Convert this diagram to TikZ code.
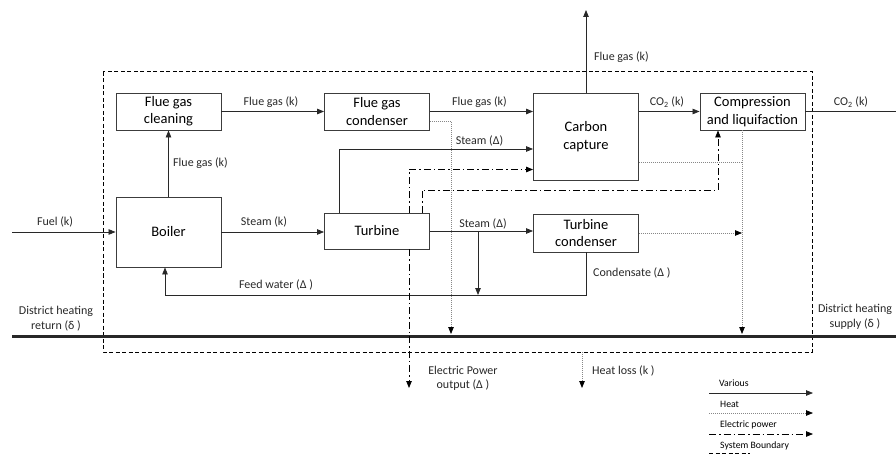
\documentclass[tikz,border=0pt]{standalone}
\usepackage{fontspec}
\setmainfont{Carlito}
\usetikzlibrary{arrows.meta}
\definecolor{boxGray}{RGB}{60,60,60}
\definecolor{heatGray}{RGB}{135,135,135}
\definecolor{lineGray}{RGB}{40,40,40}

\begin{document}
\begin{tikzpicture}[
    x=1pt,
    y=-1pt,
    unit/.style={
        draw=boxGray,
        line width=0.9pt,
        inner sep=0pt,
        align=center,
        minimum width=105pt,
        font=\fontsize{14.5}{17.4}\selectfont
    },
    flow/.style={
        lineGray,
        line width=0.8pt,
        -{Triangle[length=7pt,width=5.5pt]}
    },
    heat/.style={
        heatGray,
        line width=0.8pt,
        dash pattern=on 0.8pt off 1.2pt,
        -{Triangle[length=7pt,width=5.5pt,color=black]}
    },
    heat line/.style={
        heatGray,
        line width=0.8pt,
        dash pattern=on 0.8pt off 1.2pt
    },
    power/.style={
        black,
        line width=0.8pt,
        dash pattern=on 7pt off 3pt on 1.5pt off 3pt,
        -{Triangle[length=7pt,width=5.5pt]}
    },
    boundary/.style={
        black,
        line width=1pt,
        dash pattern=on 4pt off 2.5pt
    },
    district/.style={
        lineGray,
        line width=3pt
    },
    lbl/.style={
        text=lineGray,
        inner sep=0pt,
        font=\fontsize{12}{14.5}\selectfont
    },
    key/.style={
        anchor=west,
        inner sep=0pt,
        font=\fontsize{9.75}{11}\selectfont
    }
]
\useasboundingbox (0,0) rectangle (896,454);

%------------------------------------------------
% System boundary and district heating line
%------------------------------------------------
\coordinate (bndNW) at (103,72);
\coordinate (bndSE) at (812,352);
\draw[boundary] (bndNW) rectangle (bndSE);

\coordinate (dhwest) at (12,336);
\coordinate (dheast) at (896,336);
\draw[district] (dhwest) -- (dheast);

%------------------------------------------------
% Process units
%------------------------------------------------
\node[unit, minimum height=37pt] (cleaning) at (168.5,111.5) {Flue gas\\cleaning};
\node[unit, minimum height=37pt] (condenser) at (377,111.5) {Flue gas\\condenser};
\node[unit, minimum height=70pt] (boiler) at (168.5,232) {Boiler};
\node[unit, minimum height=36pt] (turbine) at (377,231) {Turbine};
\node[unit, minimum height=87pt] (capture) at (586,136.5) {Carbon\\capture};
\node[unit, minimum height=37pt] (compression) at (752.5,111.5) {Compression\\and liquifaction};
\node[unit, minimum height=38pt] (tcondenser) at (586,233) {Turbine\\condenser};

%------------------------------------------------
% Free ends and bends
%------------------------------------------------
\coordinate (fuelin) at (12,232);
\coordinate (exhaust) at (586,10);
\coordinate (co2out) at (896,111.5);
\coordinate (branch) at (478,231);
\coordinate (fwturn) at (165,295);
\coordinate (pwbend) at (718,190);
\coordinate (heatA) at (451,334);
\coordinate (heatB) at (742,334);
\coordinate (elout) at (409,388);
\coordinate (hlstart) at (582,352);
\coordinate (hlend) at (582,388);

%------------------------------------------------
% Mass flows
%------------------------------------------------
\draw[flow] (fuelin) -- (boiler.west);
\node[lbl] (lblfuel) at (55,222) {Fuel (k)};

\draw[flow] (boiler.north) -- (cleaning.south);
\node[lbl, anchor=west] (lblfgup) at (173,163) {Flue gas (k)};

\draw[flow] (cleaning.east) -- (condenser.west);
\node[lbl] (lblfgone) at (271,102) {Flue gas (k)};

\draw[flow] (condenser.east) -- (condenser.east -| capture.west);
\node[lbl] (lblfgtwo) at (479.5,102) {Flue gas (k)};

\draw[flow] (capture.north) -- (exhaust);
\node[lbl, anchor=west] (lblexhaust) at (594,57) {Flue gas (k)};

\draw[flow] (compression.west -| capture.east) -- (compression.west);
\node[lbl] (lblcotwo) at (667,102) {CO\textsubscript{2} (k)};

\draw[lineGray, line width=0.8pt] (compression.east) -- (co2out);
\node[lbl] (lblcoout) at (851,102) {CO\textsubscript{2} (k)};

\draw[flow] (boiler.east) -- (boiler.east -| turbine.west);
\node[lbl] (lblsteamk) at (264,222) {Steam (k)};

\draw[flow] ([xshift=-38pt]turbine.north) |- ([yshift=-12.5pt]capture.west);
\node[lbl] (lblsteamcc) at (479.5,140.5) {Steam (Δ)};

\draw[flow] (turbine.east) -- (turbine.east -| tcondenser.west);
\node[lbl] (lblsteamtc) at (483,223.5) {Steam (Δ)};

\draw[flow] (branch) -- (branch |- fwturn);

\draw[flow] (tcondenser.south) |- (fwturn) -- (fwturn |- boiler.south);
\node[lbl] (lblfeed) at (276,285) {Feed water (Δ )};
\node[lbl, anchor=west] (lblcond) at (593,273) {Condensate (Δ )};

%------------------------------------------------
% Electric power
%------------------------------------------------
\draw[power] ([xshift=32pt]turbine.north) |- ([yshift=-33pt]capture.west);
\draw[power] ([xshift=45pt]turbine.north) |- (pwbend) -- (pwbend |- compression.south);
\draw[power] ([xshift=32pt]turbine.south) -- (elout);
\node[lbl, align=center] (lblpower) at (463,378.5) {Electric Power\\output (Δ )};

%------------------------------------------------
% Heat
%------------------------------------------------
\draw[heat] ([yshift=-9.5pt]condenser.east) -| (heatA);
\draw[heat line] ([yshift=-26pt]capture.east) -- ([yshift=-26pt]capture.east -| heatB);
\draw[heat] ([xshift=-10.5pt]compression.south) -- (heatB);
\draw[heat] (tcondenser.east) -- (tcondenser.east -| heatB);
\draw[heat] (hlstart) -- (hlend);
\node[lbl, anchor=west] (lblloss) at (592,371) {Heat loss (k )};

\node[lbl, align=center] (lblreturn) at (56,318.5) {District heating\\return (δ )};
\node[lbl, align=center] (lblsupply) at (855,317) {District heating\\supply (δ )};

%------------------------------------------------
% Legend
%------------------------------------------------
\node[key] (keyvarious) at (719,383.5) {Various};
\draw[flow] (709,393) -- (813,393);
\node[key] (keyheat) at (720,404.5) {Heat};
\draw[heat] (709,413) -- (813,413);
\node[key] (keypower) at (720,424.5) {Electric power};
\draw[power] (709,434) -- (813,434);
\node[key] (keyboundary) at (720,446) {System Boundary};
\draw[boundary] (709,453.5) -- (750,453.5);

\end{tikzpicture}
\end{document}
